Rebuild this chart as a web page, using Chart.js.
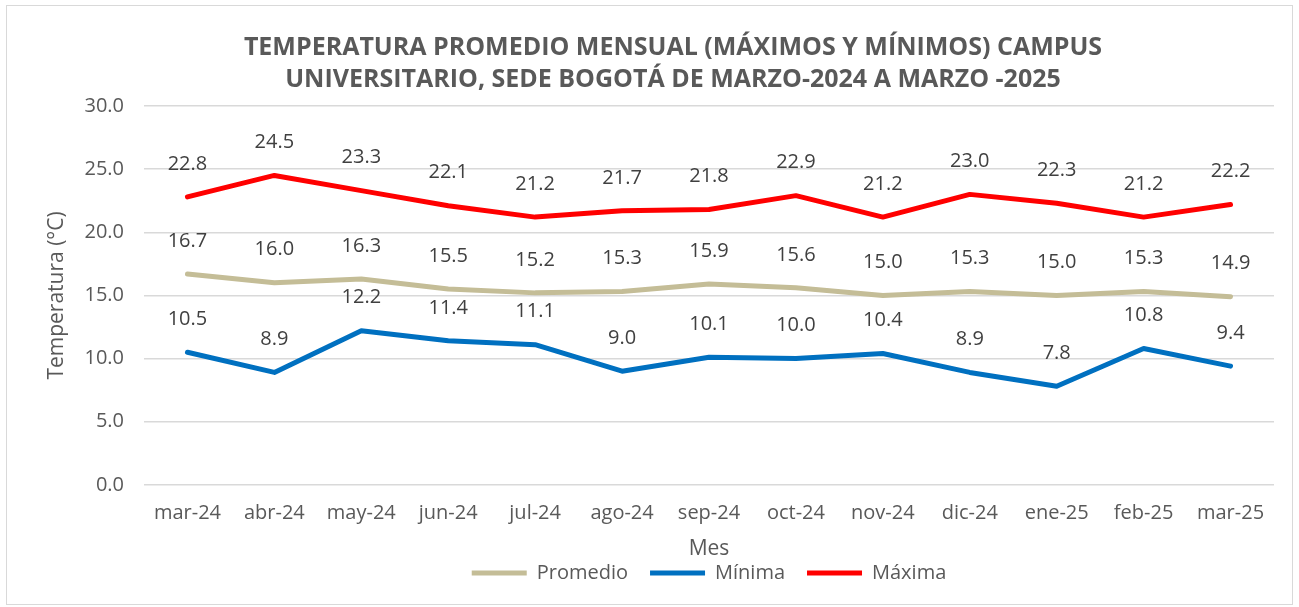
<!DOCTYPE html>
<html>
<head>
<meta charset="utf-8">
<script src="https://cdn.jsdelivr.net/npm/chart.js@4"></script>
<style>
html, body { margin: 0; padding: 0; background: #fff; }
#frame { position: absolute; left: 6px; top: 5px; width: 1287px; height: 600px; border: 1px solid #d9d9d9; box-sizing: border-box; }
#tempChart { position: absolute; left: 0; top: 0; }
</style>
</head>
<body>
<div id="frame"></div>
<canvas id="tempChart" width="1299" height="607"></canvas>
<script>
const months = ['mar-24', 'abr-24', 'may-24', 'jun-24', 'jul-24', 'ago-24', 'sep-24', 'oct-24', 'nov-24', 'dic-24', 'ene-25', 'feb-25', 'mar-25'];
const promedio = [16.7, 16.0, 16.3, 15.5, 15.2, 15.3, 15.9, 15.6, 15.0, 15.3, 15.0, 15.3, 14.9];
const minima = [10.5, 8.9, 12.2, 11.4, 11.1, 9.0, 10.1, 10.0, 10.4, 8.9, 7.8, 10.8, 9.4];
const maxima = [22.8, 24.5, 23.3, 22.1, 21.2, 21.7, 21.8, 22.9, 21.2, 23.0, 22.3, 21.2, 22.2];

const FONT = '"Open Sans"';
const GREY = '#595959';

// draws the value above each point, like Excel data labels
const valueLabels = {
    id: 'valueLabels',
    afterDatasetsDraw(chart) {
        const ctx = chart.ctx;
        ctx.save();
        ctx.font = `20px ${FONT}`;
        ctx.fillStyle = '#404040';
        ctx.textAlign = 'center';
        ctx.textBaseline = 'middle';
        chart.data.datasets.forEach((ds, i) => {
            chart.getDatasetMeta(i).data.forEach((pt, j) => {
                ctx.fillText(ds.data[j].toFixed(1), pt.x, pt.y - 33);
            });
        });
        ctx.restore();
    }
};

const ctx = document.getElementById('tempChart').getContext('2d');
const chart = new Chart(ctx, {
    type: 'line',
    data: {
        labels: months,
        datasets: [
            { label: 'Promedio', data: promedio, borderColor: '#c4bd97', backgroundColor: '#c4bd97' },
            { label: 'Mínima', data: minima, borderColor: '#0070c0', backgroundColor: '#0070c0' },
            { label: 'Máxima', data: maxima, borderColor: '#ff0000', backgroundColor: '#ff0000' }
        ].map(d => Object.assign(d, {
            borderWidth: 5,
            borderCapStyle: 'round',
            borderJoinStyle: 'round',
            pointRadius: 0,
            pointHoverRadius: 0,
            tension: 0,
            fill: false
        }))
    },
    options: {
        responsive: false,
        animation: false,
        layout: { padding: { left: 72, right: 25, top: 0, bottom: 14 } },
        plugins: {
            title: {
                display: true,
                text: ['TEMPERATURA PROMEDIO MENSUAL (MÁXIMOS Y MÍNIMOS) CAMPUS', 'UNIVERSITARIO, SEDE BOGOTÁ DE MARZO-2024 A MARZO -2025'],
                color: GREY,
                font: { family: FONT, size: 25, weight: 'bold', lineHeight: 32 / 25 },
                padding: { top: 32, bottom: 10 }
            },
            legend: {
                position: 'bottom',
                fullSize: false,
                labels: {
                    color: GREY,
                    font: { family: FONT, size: 20 },
                    usePointStyle: true,
                    pointStyle: 'line',
                    pointStyleWidth: 55,
                    padding: 22
                }
            },
            tooltip: { enabled: false }
        },
        scales: {
            x: {
                offset: true,
                grid: { display: false, drawTicks: false },
                border: { display: false },
                ticks: { color: GREY, font: { family: FONT, size: 20 }, padding: 16, maxRotation: 0 },
                title: { display: true, text: 'Mes', color: GREY, font: { family: FONT, size: 21 }, padding: { top: -4, bottom: -21 } }
            },
            y: {
                min: 0,
                max: 30,
                afterFit: s => { s.width = 72; },
                ticks: { stepSize: 5, color: GREY, font: { family: FONT, size: 20 }, padding: 20, callback: v => v.toFixed(1) },
                grid: { color: '#d9d9d9', lineWidth: 1.5, drawTicks: false },
                border: { display: false },
                title: { display: true, text: 'Temperatura (°C)', color: GREY, font: { family: FONT, size: 21 }, padding: { top: -28, bottom: 4 } }
            }
        }
    },
    plugins: [valueLabels]
});
</script>
</body>
</html>
